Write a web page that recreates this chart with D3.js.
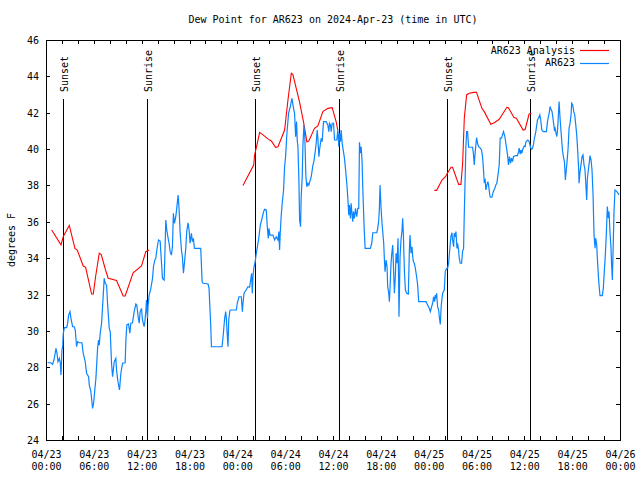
<!DOCTYPE html>
<html><head><meta charset="utf-8">
<script src="https://cdn.jsdelivr.net/npm/d3@7"></script>
<style>
body{margin:0;background:#fff}
svg{display:block;background:#fff}
text{font-family:"DejaVu Sans Mono","Liberation Mono",monospace;font-size:10px;fill:#000}
</style>
</head><body>
<svg id="c" width="640" height="480"></svg>
<script>
// ---------- data ----------
const titleText = "Dew Point for AR623 on 2024-Apr-23 (time in UTC)";
const yLabel = "degrees F";
const startDate = "2024-04-23T00:00:00Z";
const endDate = "2024-04-26T00:00:00Z";
const yDomain = [24, 46];
const yTicks = [24, 26, 28, 30, 32, 34, 36, 38, 40, 42, 44, 46];
const sunsetHours = [2.13, 26.2, 50.25];
const sunriseHours = [12.68, 36.73, 60.65];
const seriesNames = ["AR623 Analysis", "AR623"];

// AR623 Analysis (hours after start; null = gap)
const analysisHours = [0.71,1.88,2.17,2.92,3.63,3.92,4.67,4.97,5.72,5.93,6.22,6.68,6.93,7.47,7.8,8.85,9.68,9.93,10.93,11.98,12.52,12.94,
 null,
 24.71,26.05,26.17,26.46,26.8,27.22,27.84,28.26,28.8,29.1,29.93,30.35,30.77,30.97,31.8,32.3,32.73,32.97,33.68,34.1,34.73,35.35,35.9,36.4,36.6,
 null,
 48.71,49.0,49.67,50.1,50.8,51.0,51.76,52.05,52.26,52.47,52.76,53.1,53.63,54.0,54.68,54.97,55.8,56.22,56.85,57.81,58.0,58.7,59.0,59.85,60.1,60.6,60.9];
const analysisValues = [35.55,34.73,35.2,35.8,34.54,34.45,33.57,33.5,32.03,32.03,32.98,34.27,34.2,33.35,32.9,32.77,31.92,31.92,33.2,33.57,34.36,34.45,
 null,
 38.0,39.12,39.68,40.23,40.92,40.78,40.56,40.45,40.1,40.13,41.05,42.7,44.17,44.1,42.6,41.5,40.4,40.45,41.14,41.27,42.06,42.24,42.28,41.5,41.05,
 null,
 37.73,37.73,38.3,38.48,39.0,39.0,38.06,38.06,39.21,41.7,42.98,43.07,43.12,43.12,42.24,42.06,41.36,41.45,41.64,42.3,42.28,41.73,41.7,41.05,41.08,41.93,41.97];

// AR623 observations (hours after start)
const obsHours = [0.21,0.63,0.83,1.04,1.25,1.38,1.50,1.67,1.79,1.88,2.00,2.09,2.17,2.30,2.59,2.71,2.84,3.01,3.13,3.34,3.55,3.67,3.84,3.96,4.17,4.51,4.67,4.92,5.09,5.34,5.43,5.63,5.76,5.84,5.97,6.14,6.26,6.47,6.59,6.68,6.80,6.97,7.18,7.30,7.43,7.60,7.72,7.93,8.06,8.22,8.35,8.56,8.76,8.85,8.97,9.06,9.22,9.39,9.60,9.93,10.02,10.14,10.35,10.52,10.64,10.85,11.06,11.27,11.39,11.56,11.69,11.81,11.98,12.10,12.31,12.40,12.52,12.60,12.73,12.81,12.94,13.15,13.36,13.48,13.65,13.77,13.90,14.11,14.32,14.40,14.52,14.61,14.82,14.90,15.03,15.15,15.32,15.44,15.57,15.73,15.86,15.98,16.11,16.28,16.40,16.57,16.69,16.82,16.99,17.11,17.24,17.40,17.53,17.65,17.82,17.95,18.07,18.24,18.36,18.49,18.61,
 19.41,19.58,19.70,20.33,20.45,20.66,20.75,22.08,22.21,22.41,22.54,22.62,22.75,22.83,22.92,23.04,23.12,23.88,23.99,24.21,24.50,24.63,24.71,24.84,25.04,25.34,25.54,25.67,25.79,25.88,25.96,26.09,26.21,26.38,26.59,26.71,26.88,27.05,27.30,27.42,27.63,27.76,27.88,27.97,28.09,28.47,28.68,28.88,29.09,29.22,29.30,29.38,29.51,29.63,29.80,29.93,30.05,30.22,30.43,30.64,30.85,31.05,31.18,31.31,31.43,31.51,31.60,31.72,31.81,31.93,32.01,32.14,32.22,32.35,32.47,32.60,32.72,32.85,32.97,33.27,33.48,33.60,33.77,33.89,34.02,34.10,34.23,34.31,34.52,34.64,34.81,35.14,35.35,35.48,35.56,35.69,35.77,35.90,36.07,36.19,36.48,36.61,36.73,
 36.81,36.94,37.02,37.15,37.31,37.44,37.56,37.73,37.86,37.98,38.06,38.19,38.27,38.40,38.48,38.57,38.69,38.82,38.98,39.11,39.23,39.32,39.44,39.53,39.65,39.73,39.90,40.03,40.69,40.86,40.99,41.49,41.61,41.74,41.82,41.90,42.03,42.15,42.36,42.45,42.53,42.66,42.78,42.86,42.99,43.07,43.16,43.28,43.36,43.49,43.57,43.70,43.82,43.91,44.03,44.16,44.28,44.41,44.53,44.66,44.74,44.83,44.95,45.08,45.24,45.45,45.58,45.66,45.79,45.91,46.00,46.08,46.20,46.33,46.49,46.62,46.75,47.66,47.87,48.08,48.21,48.37,48.50,48.62,48.75,48.83,48.92,49.00,49.12,49.25,49.33,49.46,49.58,49.75,49.96,50.08,50.25,50.38,50.50,50.59,50.71,50.79,50.92,51.00,51.13,51.21,51.34,51.42,51.55,51.63,51.75,51.84,51.96,52.13,52.25,52.38,52.46,52.55,52.67,52.76,52.88,53.01,53.51,53.63,
 53.72,53.84,54.01,54.13,54.26,54.47,54.63,54.76,54.88,54.97,55.09,55.18,55.30,55.43,55.51,55.64,55.72,55.93,56.10,56.30,56.43,56.55,56.72,56.85,56.97,57.14,57.26,57.39,57.56,57.68,57.89,58.01,58.14,58.27,58.39,58.52,58.64,58.93,59.14,59.27,59.35,59.48,59.56,59.68,59.77,59.98,60.10,60.19,60.31,60.44,60.60,60.81,60.94,61.02,61.14,61.23,61.44,61.65,61.77,61.94,62.06,62.19,62.36,62.77,62.90,63.11,63.23,63.36,63.48,63.65,63.77,63.86,63.94,64.07,64.15,64.23,64.36,64.48,64.65,64.78,64.90,65.03,65.15,65.24,65.36,65.49,65.61,65.74,65.86,65.94,66.07,66.20,66.32,66.45,66.57,66.70,66.82,66.86,66.99,67.11,67.24,67.36,67.49,67.61,67.74,67.82,67.91,68.03,68.16,68.24,68.37,68.49,68.62,68.74,68.87,68.95,69.08,69.16,69.28,69.37,69.49,69.78,69.91,70.03,70.16,70.29,70.41,70.54,70.62,70.74,70.87,70.95,71.04,71.16,71.25,71.37,71.50,71.66,71.87];
const obsValues = [28.25,28.25,28.16,28.49,29.04,28.77,28.31,28.49,28.25,27.57,28.95,29.13,29.87,30.18,30.18,30.42,30.87,31.06,30.69,30.23,30.23,30.05,29.13,29.41,29.35,29.35,28.77,28.31,27.67,27.48,27.02,26.66,26.11,25.74,26.02,26.84,27.39,29.04,29.50,29.22,29.87,30.42,31.97,32.89,32.62,32.52,31.52,30.14,29.96,28.22,27.48,28.31,28.49,27.85,27.39,27.12,26.75,27.67,28.22,28.25,29.50,30.33,30.38,29.87,30.42,30.45,31.06,31.48,31.42,30.78,30.42,31.06,31.24,30.60,30.23,30.51,31.06,31.70,30.69,31.42,31.97,32.34,32.89,33.53,33.90,33.99,34.45,35.00,34.94,34.36,33.53,32.89,32.80,33.99,36.10,35.55,35.09,34.82,34.36,34.17,34.63,36.47,35.92,36.28,36.74,37.47,36.74,35.46,34.45,34.08,33.17,33.90,34.54,35.46,35.95,35.55,34.82,35.37,34.91,35.09,34.54,
 34.54,32.71,32.62,32.58,32.34,30.32,29.13,29.13,29.68,30.69,31.06,30.69,29.68,29.13,30.60,31.06,31.15,31.15,31.52,31.88,31.88,31.06,31.52,32.07,32.21,32.43,32.40,32.80,33.17,32.07,32.98,33.53,33.72,34.27,34.82,35.18,35.82,36.10,36.56,36.69,36.65,35.73,35.09,35.64,35.27,35.27,35.00,35.18,35.00,35.46,34.45,35.37,36.37,37.02,37.75,39.03,39.58,40.87,41.97,42.33,42.79,42.24,41.97,40.68,41.51,40.50,40.13,38.30,36.10,35.73,37.38,38.48,40.13,41.32,40.59,38.48,37.93,38.12,38.02,38.48,39.12,39.31,39.86,40.32,41.05,40.59,39.58,39.95,40.59,40.41,41.51,41.51,41.32,40.96,41.42,41.32,40.96,41.42,41.42,40.50,40.50,41.05,40.13,
 40.87,40.41,41.05,40.32,39.86,39.49,38.94,38.12,37.29,36.37,36.92,36.19,37.02,36.37,36.01,36.56,36.19,36.74,36.28,36.74,36.74,40.37,39.77,40.13,39.31,37.93,35.73,34.54,34.54,34.82,35.40,35.40,35.64,36.10,36.74,38.02,36.74,35.92,34.82,33.90,33.26,33.90,33.53,32.43,32.07,31.61,32.43,33.72,34.18,34.72,33.72,32.07,32.98,34.27,33.72,35.09,30.78,34.08,35.00,35.55,36.19,35.27,33.35,32.25,32.07,32.03,34.45,35.27,34.27,34.63,34.08,33.81,33.72,33.44,32.98,32.52,31.61,31.61,31.42,31.24,31.06,31.33,31.52,31.88,31.61,31.97,31.79,32.07,31.33,31.15,30.78,30.36,31.42,32.07,32.25,33.26,33.44,33.44,33.72,34.18,34.82,35.18,35.40,35.00,34.63,35.37,35.18,35.46,34.54,34.82,34.45,33.99,33.72,33.72,34.36,34.54,36.28,37.93,40.13,40.96,40.96,40.10,40.10,39.68,
 39.13,39.86,40.63,40.32,40.14,40.05,39.95,39.59,38.85,38.21,38.30,37.75,38.03,38.21,38.03,37.57,37.35,37.35,37.66,37.85,38.03,38.12,38.67,39.13,40.60,40.60,40.78,40.96,40.69,40.32,39.68,39.13,39.59,39.22,39.50,39.31,39.59,39.64,39.64,39.86,40.05,39.72,39.95,39.77,39.95,40.17,40.14,40.38,40.45,40.50,40.41,40.05,39.99,40.05,40.23,40.50,40.96,41.60,41.70,41.88,41.60,41.06,40.96,40.96,41.51,41.97,42.34,42.16,42.06,41.51,41.06,41.15,40.96,40.69,40.96,41.51,42.61,41.70,40.69,39.95,39.59,39.31,38.30,38.76,39.31,40.05,41.15,41.42,41.88,42.52,42.43,42.06,41.88,41.33,40.78,39.86,38.85,38.12,38.76,39.13,39.59,39.68,39.13,38.85,37.85,37.20,38.40,38.85,39.31,39.64,39.40,38.85,37.48,35.28,34.55,35.10,34.73,33.99,33.08,32.53,31.94,31.94,32.35,33.26,34.18,35.37,36.84,36.20,36.56,35.46,34.55,33.63,32.80,34.91,36.56,37.75,37.70,37.63,37.48];

// ---------- chart ----------
const svg = d3.select("#c");
const L = 46, R = 620, T = 40, B = 440;
const t0 = new Date(startDate), t1 = new Date(endDate);
const toDate = h => new Date(t0.getTime() + h * 3600000);
const x = d3.scaleUtc().domain([t0, t1]).range([L, R]);
const y = d3.scaleLinear().domain(yDomain).range([B, T]);

const clip = svg.append("clipPath").attr("id", "clip")
  .append("rect").attr("x", L).attr("y", T).attr("width", R - L + 1).attr("height", B - T + 1);

// title
svg.append("text").attr("x", 333).attr("y", 23).attr("text-anchor", "middle").text(titleText);
// y label
svg.append("text").attr("transform", "translate(11,240) rotate(-90)")
  .attr("text-anchor", "middle").attr("dominant-baseline", "central").text(yLabel);

const xTickVals = d3.utcHour.every(2).range(t0, d3.utcHour.offset(t1, 1));
const fmtDay = d3.utcFormat("%m/%d"), fmtTime = d3.utcFormat("%H:%M");

function styleAxis(g) {
  g.attr("font-family", null).attr("font-size", null);
  g.select(".domain").remove();
  g.selectAll(".tick line").attr("stroke", "#000").attr("shape-rendering", "crispEdges");
}

// bottom axis
const gxb = svg.append("g").attr("transform", `translate(0,${B})`)
  .call(d3.axisBottom(x).tickValues(xTickVals).tickSizeInner(-4).tickSizeOuter(0).tickFormat(() => ""))
  .call(styleAxis);
gxb.selectAll(".tick text").each(function(d) {
  const t = d3.select(this);
  t.attr("y", null).attr("dy", null);
  if (d.getUTCHours() % 6 !== 0) return;
  t.append("tspan").attr("x", 0).attr("y", 17.5).text(fmtDay(d));
  t.append("tspan").attr("x", 0).attr("y", 30).text(fmtTime(d));
});
// top axis
svg.append("g").attr("transform", `translate(0,${T})`)
  .call(d3.axisTop(x).tickValues(xTickVals).tickSizeInner(-4).tickSizeOuter(0).tickFormat(() => ""))
  .call(styleAxis);
// left axis
const gyl = svg.append("g").attr("transform", `translate(${L},0)`)
  .call(d3.axisLeft(y).tickValues(yTicks).tickSizeInner(-4).tickSizeOuter(0).tickFormat(d3.format("d")))
  .call(styleAxis);
gyl.selectAll(".tick text").attr("x", -7).attr("dy", null).attr("dominant-baseline", "central").attr("text-anchor", "end");
// right axis
svg.append("g").attr("transform", `translate(${R},0)`)
  .call(d3.axisRight(y).tickValues(yTicks).tickSizeInner(-4).tickSizeOuter(0).tickFormat(() => ""))
  .call(styleAxis);

// sunset / sunrise markers
const markers = sunsetHours.map(h => ({h, label: "Sunset"}))
  .concat(sunriseHours.map(h => ({h, label: "Sunrise"})));
markers.forEach(m => {
  const px = Math.round(x(toDate(m.h))) + 0.5;
  svg.append("line").attr("x1", px).attr("x2", px).attr("y1", 99).attr("y2", B)
    .attr("stroke", "#000").attr("stroke-width", 1).attr("shape-rendering", "crispEdges");
  svg.append("text").attr("transform", `translate(${px + 1},92) rotate(-90)`)
    .attr("dominant-baseline", "central").attr("text-anchor", "start").text(m.label);
});

// series lines
const analysisData = analysisHours.map((h, i) => ({h, v: analysisValues[i]}));
const obsData = obsHours.map((h, i) => ({h, v: obsValues[i]}));
const line = d3.line().defined(d => d.h != null && d.v != null)
  .x(d => x(toDate(d.h))).y(d => y(d.v));

svg.append("path").datum(analysisData).attr("d", line).attr("clip-path", "url(#clip)")
  .attr("fill", "none").attr("stroke", "#ff0000").attr("stroke-width", 1.1);
svg.append("path").datum(obsData).attr("d", line).attr("clip-path", "url(#clip)")
  .attr("fill", "none").attr("stroke", "#0a84ff").attr("stroke-width", 1.2);

// frame
svg.append("rect").attr("x", L + 0.5).attr("y", T + 0.5).attr("width", R - L).attr("height", B - T)
  .attr("fill", "none").attr("stroke", "#000").attr("shape-rendering", "crispEdges");

// legend
const legColors = ["#ff0000", "#0a84ff"];
seriesNames.forEach((name, i) => {
  const ly = 50 + i * 12.7;
  svg.append("text").attr("x", 575).attr("y", ly).attr("text-anchor", "end")
    .attr("dominant-baseline", "central").text(name);
  svg.append("line").attr("x1", 580).attr("x2", 609).attr("y1", Math.round(ly) + 0.5).attr("y2", Math.round(ly) + 0.5)
    .attr("stroke", legColors[i]).attr("stroke-width", 1.2);
});
</script>
</body></html>
